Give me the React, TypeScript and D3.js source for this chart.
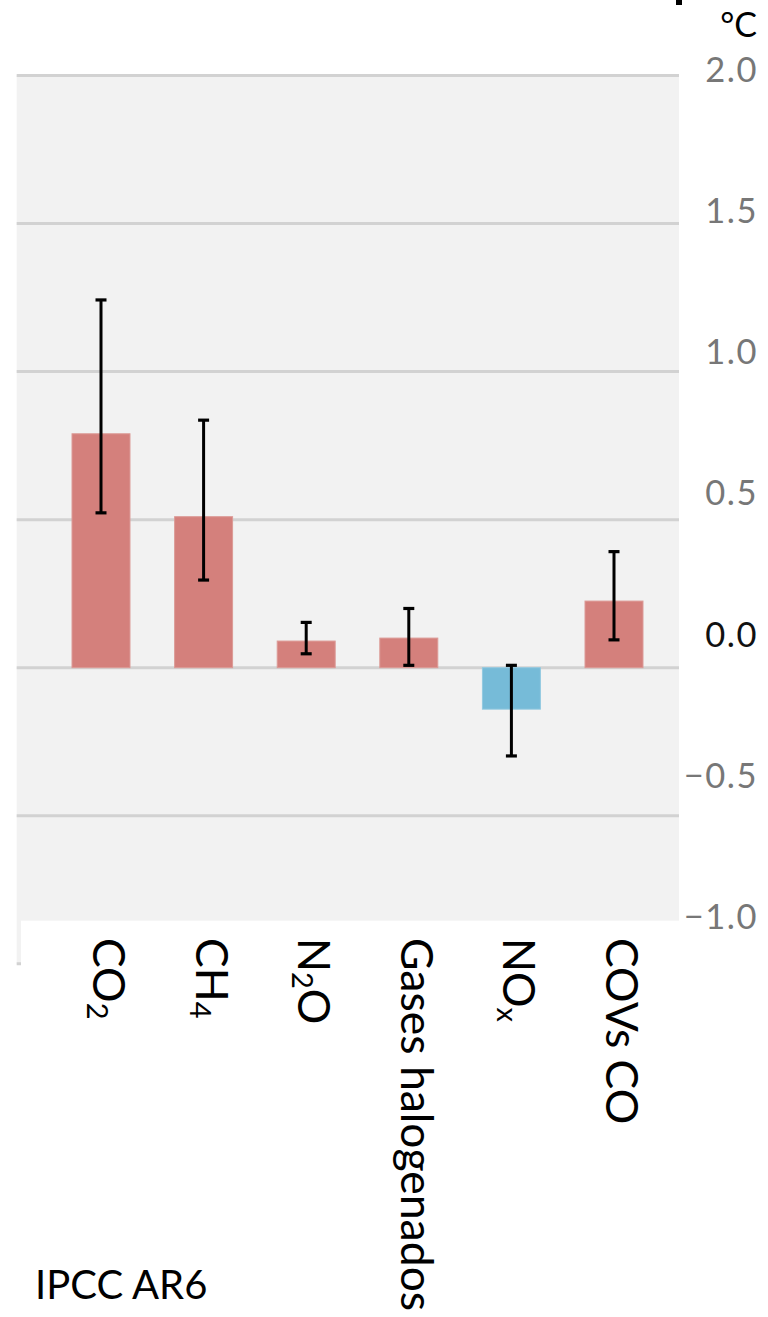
import React from "react";
import * as d3 from "d3";

// Warming contribution by emitted species (°C), central estimate and likely range
const categories = ["CO2", "CH4", "N2O", "Gases halogenados", "NOx", "COVs CO"];
const labelParts: [string, boolean][][] = [
  [["CO", false], ["2", true]],
  [["CH", false], ["4", true]],
  [["N", false], ["2", true], ["O", false]],
  [["Gases halogenados", false]],
  [["NO", false], ["x", true]],
  [["COVs CO", false]],
];
const values = [0.79, 0.51, 0.09, 0.1, -0.14, 0.225];
const rangeLow = [0.523, 0.296, 0.047, 0.008, -0.298, 0.094];
const rangeHigh = [1.242, 0.836, 0.153, 0.2, 0.008, 0.392];
const yTicks = [-1.0, -0.5, 0.0, 0.5, 1.0, 1.5, 2.0];
const unitLabel = "°C";
const sourceLabel = "IPCC AR6";

const W = 768;
const H = 1317;
const plotLeft = 16.7;
const plotRight = 679;

const FONT = "Lato, 'Open Sans', sans-serif";

export default function App() {
  const y = d3.scaleLinear().domain([-1, 2]).range([963.8, 75.5]);
  // tick labels sit in their own column with slightly tighter spacing
  const yLabel = d3.scaleLinear().domain([-1, 2]).range([916.7, 69.2]);
  const x = d3
    .scaleBand<string>()
    .domain(categories)
    .range([49.7, 665.3])
    .paddingInner(0.435)
    .paddingOuter(0.2175);

  const bw = x.bandwidth();
  const capW = 11;
  const mainSize = 44.5;
  const subSize = 29;

  return (
    <svg
      width={W}
      height={H}
      viewBox={`0 0 ${W} ${H}`}
      style={{ position: "absolute", left: 0, top: 0, background: "#fff" }}
    >
      {/* plot background */}
      <rect
        x={plotLeft}
        y={y(2)}
        width={plotRight - plotLeft}
        height={y(-1) - y(2)}
        fill="#f2f2f2"
      />
      {/* gridlines */}
      {yTicks.map((t) => (
        <line
          key={t}
          x1={plotLeft}
          x2={plotRight}
          y1={y(t)}
          y2={y(t)}
          stroke="#d2d2d2"
          strokeWidth={3}
        />
      ))}
      {/* bars */}
      {categories.map((c, i) => {
        const v = values[i];
        const top = y(Math.max(0, v));
        const bottom = y(Math.min(0, v));
        return (
          <rect
            key={c}
            x={x(c)!}
            y={top}
            width={bw}
            height={bottom - top}
            fill={v >= 0 ? "#d4807c" : "#76bbd8"}
            stroke={v >= 0 ? "#dc9a96" : "#92c9e0"}
            strokeWidth={1}
          />
        );
      })}
      {/* likely-range whiskers */}
      {categories.map((c, i) => {
        const cx = x(c)! + bw / 2;
        const y1 = y(rangeHigh[i]);
        const y2 = y(rangeLow[i]);
        return (
          <g key={c} stroke="#000" strokeWidth={3}>
            <line x1={cx} x2={cx} y1={y1} y2={y2} />
            <line x1={cx - capW / 2} x2={cx + capW / 2} y1={y1} y2={y1} strokeWidth={3.2} />
            <line x1={cx - capW / 2} x2={cx + capW / 2} y1={y2} y2={y2} strokeWidth={3.2} />
          </g>
        );
      })}
      {/* the category area hides the lower part of the panel */}
      <rect x={21} y={920.7} width={W - 21} height={60} fill="#fff" />

      {/* y tick labels */}
      {yTicks.map((t) => (
        <text
          key={t}
          x={758}
          y={yLabel(t)}
          dy="0.36em"
          textAnchor="end"
          fontFamily={FONT}
          fontSize={34.5}
          letterSpacing={1.5}
          fill={t === 0 ? "#111" : "#777"}
        >
          {(t < 0 ? "\u2212" : "") + Math.abs(t).toFixed(1)}
        </text>
      ))}
      <text
        x={757}
        y={37}
        textAnchor="end"
        fontFamily={FONT}
        fontSize={34}
        fill="#000"
      >
        {unitLabel}
      </text>
      <rect x={676} y={0} width={6} height={5} fill="#000" />

      {/* category labels, rotated to read downward */}
      {categories.map((c, i) => {
        const cx = x(c)! + bw / 2;
        return (
          <text
            key={c}
            transform={`translate(${cx - 8},938) rotate(90)`}
            fontFamily={FONT}
            fontSize={mainSize}
            fill="#000"
          >
            {labelParts[i].map(([s, sub], j) => {
              const prevSub = j > 0 && labelParts[i][j - 1][1];
              const dy = sub ? 6 : prevSub ? -6 : 0;
              return (
                <tspan key={j} dy={dy} fontSize={sub ? subSize : mainSize}>
                  {s}
                </tspan>
              );
            })}
          </text>
        );
      })}

      <text x={35} y={1299} fontFamily={FONT} fontSize={40} fill="#000">
        {sourceLabel}
      </text>
    </svg>
  );
}
